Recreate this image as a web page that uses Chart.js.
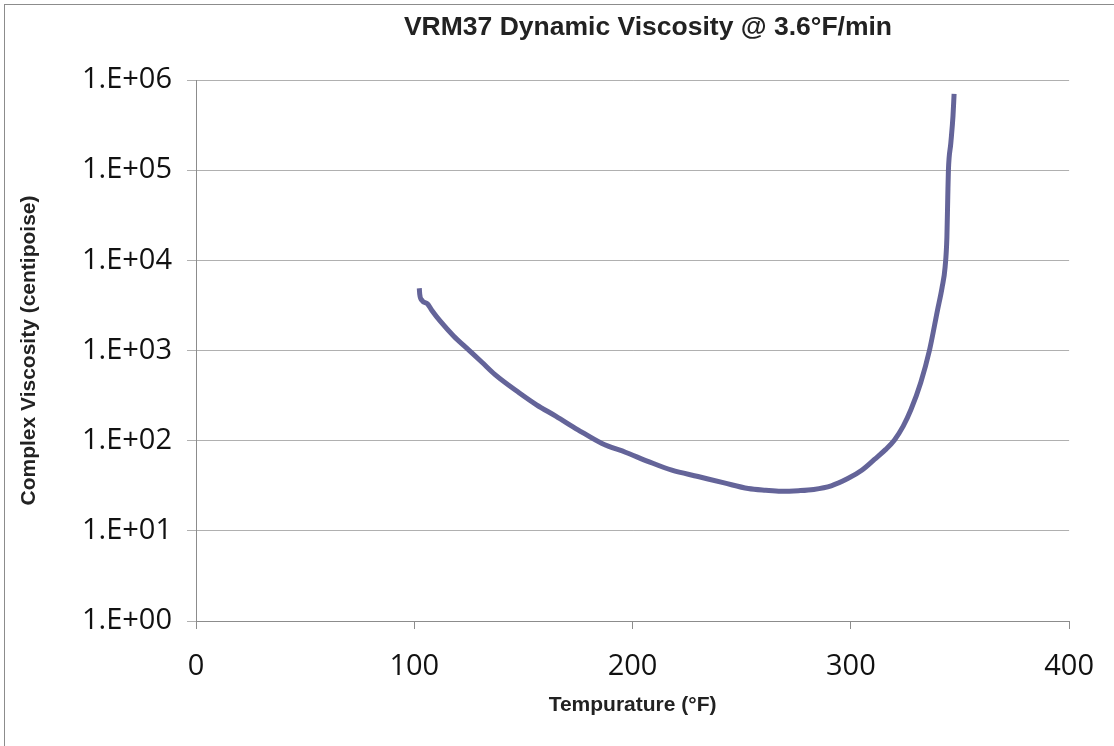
<!DOCTYPE html>
<html>
<head>
<meta charset="utf-8">
<title>VRM37 Dynamic Viscosity</title>
<script src="https://cdn.jsdelivr.net/npm/chart.js@4"></script>
<style>
  html, body { margin: 0; padding: 0; background: #fff; }
  #wrap { position: relative; width: 1114px; height: 746px; }
</style>
</head>
<body>
<div id="wrap"><canvas id="viscosity_chart" width="1114" height="746"></canvas></div>
<script>
// DATA
const chart_title = "VRM37 Dynamic Viscosity @ 3.6°F/min";
const x_title = "Tempurature (°F)";
const y_title = "Complex Viscosity (centipoise)";

const temperature_f = [
  102.3, 102.5, 103.5, 106, 108, 112, 118, 125, 131, 137,
  148, 156, 165, 175, 186, 197, 207, 218, 230, 242,
  253, 261, 268, 276, 283, 291, 298.6, 305, 310.8, 316,
  320, 324, 327.5, 332, 336, 339.7, 341.8, 343.2, 344.0, 344.4,
  344.7, 345.8, 346.8, 347.3
];
const viscosity_cp = [
  4900, 4200, 3600, 3300, 2800, 2100, 1450, 1010, 740, 540,
  340, 250, 186, 132, 93, 74, 59, 47, 40, 34,
  29.5, 28.2, 27.5, 27.9, 28.8, 31.6, 38, 47, 62, 80,
  102, 145, 220, 440, 1000, 2800, 5000, 8500, 18000, 50000,
  100000, 200000, 400000, 700000
];

const x_ticks = [0, 100, 200, 300, 400];
const y_ticks = [1, 10, 100, 1000, 10000, 100000, 1000000];
const y_tick_labels = ["1.E+00", "1.E+01", "1.E+02", "1.E+03", "1.E+04", "1.E+05", "1.E+06"];

// build points for the line
const points = temperature_f.map((t, i) => ({ x: t, y: viscosity_cp[i] }));

// frame round the whole chart, and the title placed like the original
const framePlugin = {
  id: "frame",
  beforeDraw(chart) {
    const c = chart.ctx;
    c.save();
    c.fillStyle = "#fff";
    c.fillRect(0, 0, chart.width, chart.height);
    c.strokeStyle = "#8c8c8c";
    c.lineWidth = 1;
    c.strokeRect(4.5, 4.5, 1300, 900);
    c.restore();
  },
  afterDraw(chart) {
    const c = chart.ctx;
    c.save();
    c.font = "bold 26.5px 'Liberation Sans', Arial, sans-serif";
    c.fillStyle = "#222";
    c.textAlign = "center";
    c.textBaseline = "middle";
    c.fillText(chart_title, 648, 28);
    c.restore();
  }
};

const ctx = document.getElementById("viscosity_chart").getContext("2d");

const my_chart = new Chart(ctx, {
  type: "line",
  data: {
    datasets: [{
      data: points,
      borderColor: "#646499",
      borderWidth: 5,
      pointRadius: 0,
      cubicInterpolationMode: "monotone",
      fill: false
    }]
  },
  options: {
    responsive: false,
    animation: false,
    layout: { padding: { top: 80, right: 42, bottom: 0, left: 0 } },
    plugins: {
      legend: { display: false },
      tooltip: { enabled: false },
      title: { display: false }
    },
    scales: {
      x: {
        type: "linear",
        min: 0,
        max: 400,
        afterBuildTicks(scale) {
          scale.ticks = x_ticks.map(v => ({ value: v }));
        },
        afterFit(scale) { scale.height = 125; },
        grid: {
          drawOnChartArea: false,
          drawTicks: true,
          tickLength: 8,
          color: "#8c8c8c"
        },
        border: { color: "#8c8c8c" },
        ticks: {
          padding: 20,
          color: "#111",
          font: { family: "'Open Sans', sans-serif", size: 29 },
          maxRotation: 0
        },
        title: {
          display: true,
          text: x_title,
          color: "#222",
          font: { family: "'Liberation Sans', Arial, sans-serif", size: 21, weight: "bold" },
          padding: { top: 0, bottom: 28 }
        }
      },
      y: {
        type: "logarithmic",
        min: 1,
        max: 1000000,
        afterBuildTicks(scale) {
          scale.ticks = y_ticks.map(v => ({ value: v }));
        },
        afterFit(scale) { scale.width = 196; },
        grid: {
          color: "#b0b0b0",
          tickLength: 9
        },
        border: { color: "#8c8c8c" },
        ticks: {
          padding: 15,
          color: "#111",
          font: { family: "'Open Sans', sans-serif", size: 29 },
          callback: (value) => y_tick_labels[y_ticks.indexOf(value)]
        },
        title: {
          display: true,
          text: y_title,
          color: "#222",
          font: { family: "'Liberation Sans', Arial, sans-serif", size: 21, weight: "bold" },
          padding: { top: 17, bottom: 0 }
        }
      }
    }
  },
  plugins: [framePlugin]
});
</script>
</body>
</html>
